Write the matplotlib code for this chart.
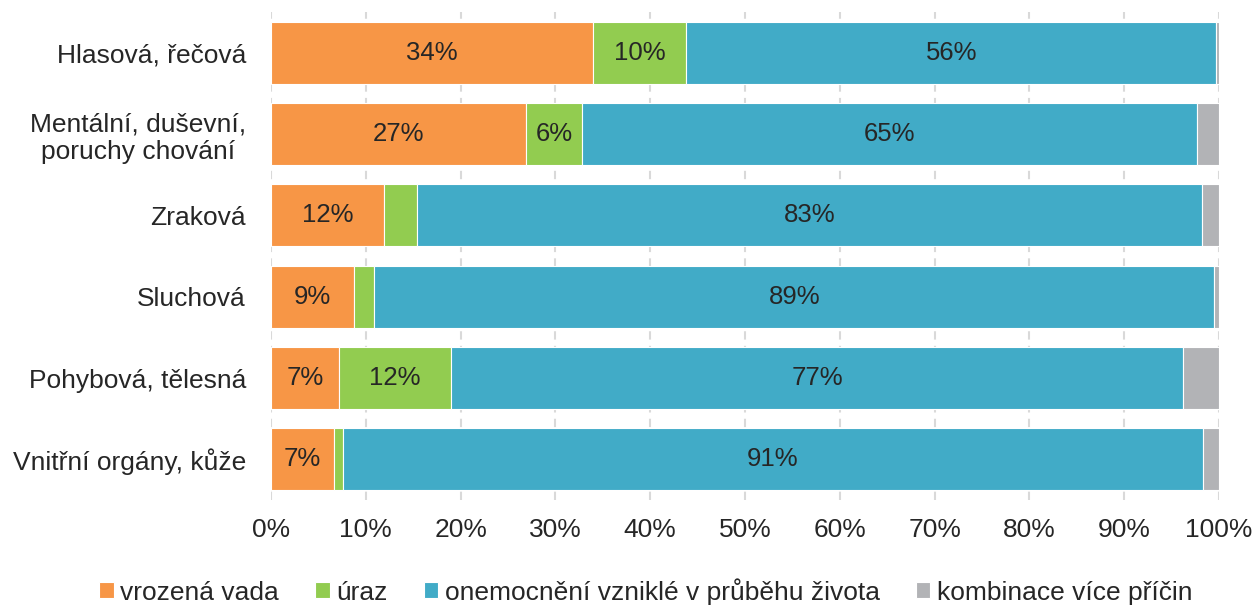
import matplotlib
matplotlib.use('Agg')
import matplotlib.pyplot as plt
import numpy as np

plt.rcParams['font.family'] = ['Liberation Sans', 'DejaVu Sans']

categories = ['Hlasová, řečová', 'Mentální, duševní,\nporuchy chování', 'Zraková',
              'Sluchová', 'Pohybová, tělesná', 'Vnitřní orgány, kůže']
series = ['vrozená vada', 'úraz', 'onemocnění vzniklé v průběhu života', 'kombinace více příčin']
vrozena = [34.0, 26.9, 11.9, 8.8, 7.2, 6.6]
uraz = [9.8, 5.9, 3.5, 2.1, 11.8, 1.0]
onemocneni = [55.9, 64.9, 82.8, 88.6, 77.2, 90.7]
kombinace = [0.3, 2.3, 1.8, 0.5, 3.8, 1.7]
colors = ['#F79646', '#92CC50', '#41ABC7', '#B2B3B6']
txt = '#262626'

fig = plt.figure(figsize=(12.54, 6.10), dpi=100)
ax = fig.add_axes([271 / 1254, 1 - 500 / 610, 948 / 1254, 488 / 610])

y = np.arange(len(categories))
left = np.zeros(len(categories))
for name, vals, c in zip(series, [vrozena, uraz, onemocneni, kombinace], colors):
    vals = np.array(vals)
    ax.barh(y, vals, left=left, height=0.76, color=c, edgecolor='white', linewidth=0.8, label=name, zorder=2)
    for yi, l, v in zip(y, left, vals):
        if v >= 5 and c != colors[3]:
            ax.text(l + v / 2, yi, f'{v:.0f}%', ha='center', va='center', fontsize=18.5, color=txt, zorder=3)
    left += vals

ax.set_xlim(0, 100)
ax.set_ylim(len(categories) - 0.5, -0.5)
ax.set_xticks(np.arange(0, 101, 10))
ax.set_xticklabels([f'{t}%' for t in range(0, 101, 10)])
ax.set_yticks(y)
ax.set_yticklabels(categories, multialignment='center')
ax.tick_params(axis='both', length=0, labelsize=19, labelcolor=txt)
ax.tick_params(axis='y', pad=18)
ax.tick_params(axis='x', pad=13)
ax.grid(axis='x', color='#D9D9D9', linestyle=(0, (4, 3)), linewidth=1.5, zorder=0)
for s in ax.spines.values():
    s.set_visible(False)

fig.legend(loc='lower center', bbox_to_anchor=(0.515, -0.03), ncol=4, frameon=False,
           fontsize=19, handlelength=0.55, handleheight=0.55, handletextpad=0.25, columnspacing=1.37,
           labelcolor=txt)

fig.savefig('out.png', dpi=100)
